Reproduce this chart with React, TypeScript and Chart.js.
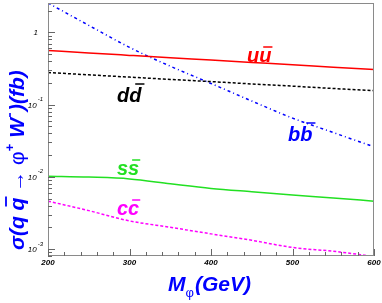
import React, { useEffect, useRef } from "react";
import { Chart, registerables } from "chart.js";

Chart.register(...registerables);

const masses = [200, 250, 300, 350, 400, 450, 500, 550, 600];
const uuValues = [0.56, 0.518, 0.48, 0.445, 0.413, 0.383, 0.355, 0.33, 0.306];
const ddValues = [0.278, 0.258, 0.24, 0.223, 0.208, 0.193, 0.18, 0.167, 0.156];
const bbValues = [2.55, 1.25, 0.62, 0.34, 0.196, 0.112, 0.065, 0.041, 0.026];
const ssValues = [0.0102, 0.0099, 0.00935, 0.008, 0.0069, 0.0062, 0.0056, 0.0051, 0.0046];
const ccValues = [0.0046, 0.0034, 0.00245, 0.002, 0.00162, 0.00132, 0.00105, 0.00093, 0.00079];

const xMajorTicks = [200, 300, 400, 500, 600];
const yMajorTicks = [1, 0.1, 0.01, 0.001];
const yTickBase = ["1", "10", "10", "10"];
const yTickExp = ["", "-1", "-2", "-3"];

const FONT = "'Liberation Sans', Arial, sans-serif";

function toPts(ys: number[]) {
  return masses.map((m, i) => ({ x: m, y: ys[i] }));
}

const decor = {
  id: "decor",
  afterDraw(chart: any) {
    const ctx = chart.ctx as CanvasRenderingContext2D;
    const xs = chart.scales.x;
    const ys = chart.scales.y;
    const { left, right, top, bottom } = chart.chartArea;
    ctx.save();
    // frame
    ctx.strokeStyle = "#8a8a8a";
    ctx.lineWidth = 1;
    ctx.strokeRect(left + 0.5, top + 0.5, right - left - 1, bottom - top - 1);
    // x ticks
    ctx.strokeStyle = "#666";
    for (let v = 200; v <= 600; v += 20) {
      const px = Math.round(xs.getPixelForValue(v)) + 0.5;
      const len = v % 100 === 0 ? 7 : 4;
      ctx.beginPath();
      ctx.moveTo(px, bottom);
      ctx.lineTo(px, bottom - len);
      ctx.stroke();
    }
    // y ticks
    for (let e = -4; e <= 0; e++) {
      for (let k = 1; k <= 9; k++) {
        const v = k * Math.pow(10, e);
        if (v < ys.min || v > ys.max) continue;
        const py = Math.round(ys.getPixelForValue(v)) + 0.5;
        const len = k === 1 ? 7 : 4;
        ctx.beginPath();
        ctx.moveTo(left, py);
        ctx.lineTo(left + len, py);
        ctx.stroke();
      }
    }
    // x tick labels
    ctx.fillStyle = "#000";
    ctx.font = `italic bold 8px ${FONT}`;
    ctx.textAlign = "center";
    ctx.textBaseline = "top";
    xMajorTicks.forEach((v) => {
      ctx.fillText(String(v), xs.getPixelForValue(v), bottom + 3);
    });
    // y tick labels
    yMajorTicks.forEach((v, i) => {
      const py = ys.getPixelForValue(v);
      ctx.font = `italic 8px ${FONT}`;
      ctx.textBaseline = "middle";
      if (yTickExp[i] === "") {
        ctx.textAlign = "right";
        ctx.fillText(yTickBase[i], left - 10, py);
      } else {
        ctx.font = `italic 6px ${FONT}`;
        ctx.textAlign = "left";
        const ew = ctx.measureText(yTickExp[i]).width;
        ctx.fillText(yTickExp[i], left - 5 - ew, py - 5);
        ctx.font = `italic 8px ${FONT}`;
        ctx.textAlign = "right";
        ctx.fillText(yTickBase[i], left - 6 - ew, py + 1);
      }
    });

    // curve labels
    const drawPair = (a: string, b: string, color: string, x: number, y: number) => {
      ctx.font = `italic bold 20px ${FONT}`;
      ctx.fillStyle = color;
      ctx.strokeStyle = color;
      ctx.textAlign = "left";
      ctx.textBaseline = "alphabetic";
      const wa = ctx.measureText(a).width;
      const wb = ctx.measureText(b).width;
      ctx.fillText(a, x, y);
      ctx.fillText(b, x + wa, y);
      const isAsc = b === "d" || b === "b";
      const by = isAsc ? y - 18 : y - 15;
      ctx.lineWidth = 1.5;
      ctx.beginPath();
      ctx.moveTo(x + wa + 2 + (isAsc ? 4 : 2), by);
      ctx.lineTo(x + wa + wb - 1 + (isAsc ? 4 : 2), by);
      ctx.stroke();
    };
    drawPair("u", "u", "#ff0000", 247, 62);
    drawPair("d", "d", "#000000", 117, 102);
    drawPair("b", "b", "#0000ff", 288, 141);
    drawPair("s", "s", "#22e022", 117, 175);
    drawPair("c", "c", "#ff00ff", 117, 215);

    // x title
    ctx.fillStyle = "#0000ff";
    ctx.textAlign = "left";
    ctx.textBaseline = "alphabetic";
    ctx.font = `italic bold 21px ${FONT}`;
    let cx = 168;
    ctx.fillText("M", cx, 291);
    cx += ctx.measureText("M").width;
    ctx.font = `13px ${FONT}`;
    ctx.fillText("\u03c6", cx, 297);
    cx += ctx.measureText("\u03c6").width + 1;
    ctx.font = `italic bold 21px ${FONT}`;
    ctx.fillText("(GeV)", cx, 291);

    // y title (rotated)
    ctx.save();
    ctx.translate(24, 250);
    ctx.rotate(-Math.PI / 2);
    const big = `italic bold 21px ${FONT}`;
    const sup = `bold 13px ${FONT}`;
    ctx.strokeStyle = "#0000ff";
    let tx = 0;
    const seg = (t: string, f: string, dy = 0) => {
      ctx.font = f;
      ctx.fillText(t, tx, dy);
      const w = ctx.measureText(t).width;
      tx += w;
      return w;
    };
    seg("\u03c3(q ", big);
    const qx = tx;
    const qw = seg("q", big);
    ctx.lineWidth = 1.8;
    ctx.beginPath();
    ctx.moveTo(qx + 4, -18);
    ctx.lineTo(qx + qw + 1, -18);
    ctx.stroke();
    seg(" \u2192 ", `bold 21px ${FONT}`);
    seg("\u03c6", `21px ${FONT}`);
    seg("+", sup, -10);
    seg(" W", big);
    // superscript minus
    ctx.lineWidth = 1.6;
    ctx.beginPath();
    ctx.moveTo(tx + 1, -14);
    ctx.lineTo(tx + 5, -14);
    ctx.stroke();
    tx += 7;
    seg(")(fb)", big);
    ctx.restore();

    ctx.restore();
  },
};

export default function App() {
  const ref = useRef<HTMLCanvasElement>(null);
  useEffect(() => {
    if (!ref.current) return;
    const mk = (label: string, data: number[], color: string, dash: number[]) => ({
      label,
      data: toPts(data),
      borderColor: color,
      borderWidth: 1.5,
      borderDash: dash,
      pointRadius: 0,
      fill: false,
      cubicInterpolationMode: "monotone" as const,
    });
    const chart = new Chart(ref.current, {
      type: "line",
      data: {
        datasets: [
          mk("uu", uuValues, "#ff0000", []),
          mk("dd", ddValues, "#000000", [3, 2]),
          mk("bb", bbValues, "#0000ff", [3, 3, 1, 3]),
          mk("ss", ssValues, "#22e022", []),
          mk("cc", ccValues, "#ff00ff", [3, 2]),
        ],
      },
      options: {
        responsive: false,
        devicePixelRatio: 1,
        animation: false,
        layout: { padding: { left: 48, top: 3, right: 8, bottom: 47 } },
        plugins: { legend: { display: false }, tooltip: { enabled: false } },
        scales: {
          x: { type: "linear", min: 200, max: 600, display: false },
          y: { type: "logarithmic", min: 0.0008, max: 2.55, display: false },
        },
      },
      plugins: [decor],
    });
    return () => chart.destroy();
  }, []);
  return (
    <div style={{ position: "fixed", left: 0, top: 0, width: 382, height: 303, background: "#fff" }}>
      <canvas ref={ref} width={382} height={303} style={{ display: "block" }} />
    </div>
  );
}
